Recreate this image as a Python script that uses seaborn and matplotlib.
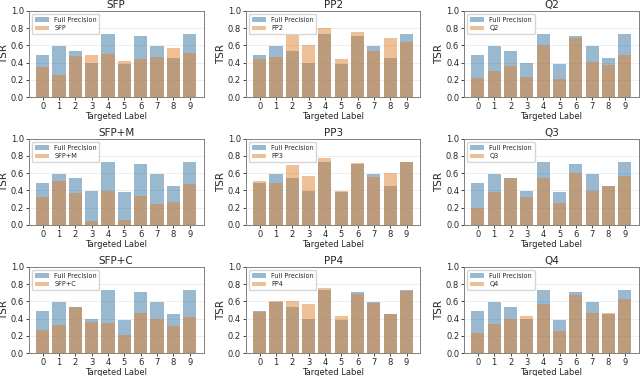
import matplotlib
matplotlib.use("Agg")
import matplotlib.pyplot as plt
import seaborn as sns

labels = ["0", "1", "2", "3", "4", "5", "6", "7", "8", "9"]
full_precision = [0.49, 0.59, 0.54, 0.39, 0.73, 0.38, 0.71, 0.59, 0.45, 0.73]

names = ["SFP", "PP2", "Q2", "SFP+M", "PP3", "Q3", "SFP+C", "PP4", "Q4"]
sfp = [0.35, 0.26, 0.48, 0.49, 0.50, 0.42, 0.44, 0.46, 0.57, 0.51]
pp2 = [0.44, 0.46, 0.72, 0.60, 0.80, 0.44, 0.75, 0.53, 0.68, 0.64]
q2 = [0.22, 0.30, 0.36, 0.23, 0.60, 0.21, 0.69, 0.41, 0.37, 0.49]
sfp_m = [0.32, 0.51, 0.37, 0.04, 0.39, 0.06, 0.33, 0.24, 0.26, 0.48]
pp3 = [0.51, 0.49, 0.69, 0.57, 0.78, 0.39, 0.72, 0.55, 0.60, 0.73]
q3 = [0.20, 0.38, 0.54, 0.32, 0.54, 0.25, 0.60, 0.39, 0.45, 0.57]
sfp_c = [0.27, 0.33, 0.53, 0.36, 0.35, 0.21, 0.46, 0.40, 0.32, 0.42]
pp4 = [0.48, 0.61, 0.61, 0.57, 0.75, 0.43, 0.69, 0.58, 0.45, 0.72]
q4 = [0.23, 0.34, 0.40, 0.43, 0.57, 0.26, 0.68, 0.47, 0.47, 0.63]
series = [sfp, pp2, q2, sfp_m, pp3, q3, sfp_c, pp4, q4]

sns.set_style("whitegrid", {"axes.edgecolor": "0.5", "grid.color": "0.92",
                            "xtick.bottom": True, "ytick.left": True,
                            "xtick.color": "0.15", "ytick.color": "0.15"})
plt.rcParams["font.family"] = ["DejaVu Sans"]

fig, axes = plt.subplots(3, 3, figsize=(6.4, 3.76), dpi=100)
lefts = [0.045, 0.384, 0.725]
width = 0.273
bottoms = [0.742, 0.402, 0.061]
height = 0.229

for i, (name, vals) in enumerate(zip(names, series)):
    r, c = divmod(i, 3)
    ax = axes[r][c]
    ax.set_position([lefts[c], bottoms[r], width, height])
    sns.barplot(x=labels, y=full_precision, color="#1f77b4", alpha=0.5,
                label="Full Precision", ax=ax, width=0.8, edgecolor="none")
    sns.barplot(x=labels, y=vals, color="#ff7f0e", alpha=0.5,
                label=name, ax=ax, width=0.8, edgecolor="none")
    ax.set_ylim(0, 1.0)
    ax.set_xlim(-0.85, 9.85)
    ax.set_yticks([0.0, 0.2, 0.4, 0.6, 0.8, 1.0])
    ax.set_yticklabels(["0.0", "0.2", "0.4", "0.6", "0.8", "1.0"])
    ax.xaxis.grid(False)
    ax.yaxis.grid(True, linewidth=0.6)
    ax.tick_params(axis="both", labelsize=6, length=2, width=0.6, pad=1.5)
    ax.set_title(name, fontsize=7.5, pad=2)
    ax.set_ylabel("TSR", fontsize=7.5, labelpad=1)
    ax.set_xlabel("Targeted Label", fontsize=6, labelpad=1)
    for s in ax.spines.values():
        s.set_linewidth(0.7)
    ax.legend(loc="upper left", fontsize=4.7, frameon=True, framealpha=0.8,
              borderpad=0.4, handlelength=2.2, labelspacing=0.4,
              fancybox=True)

fig.savefig("out.png", dpi=100)
